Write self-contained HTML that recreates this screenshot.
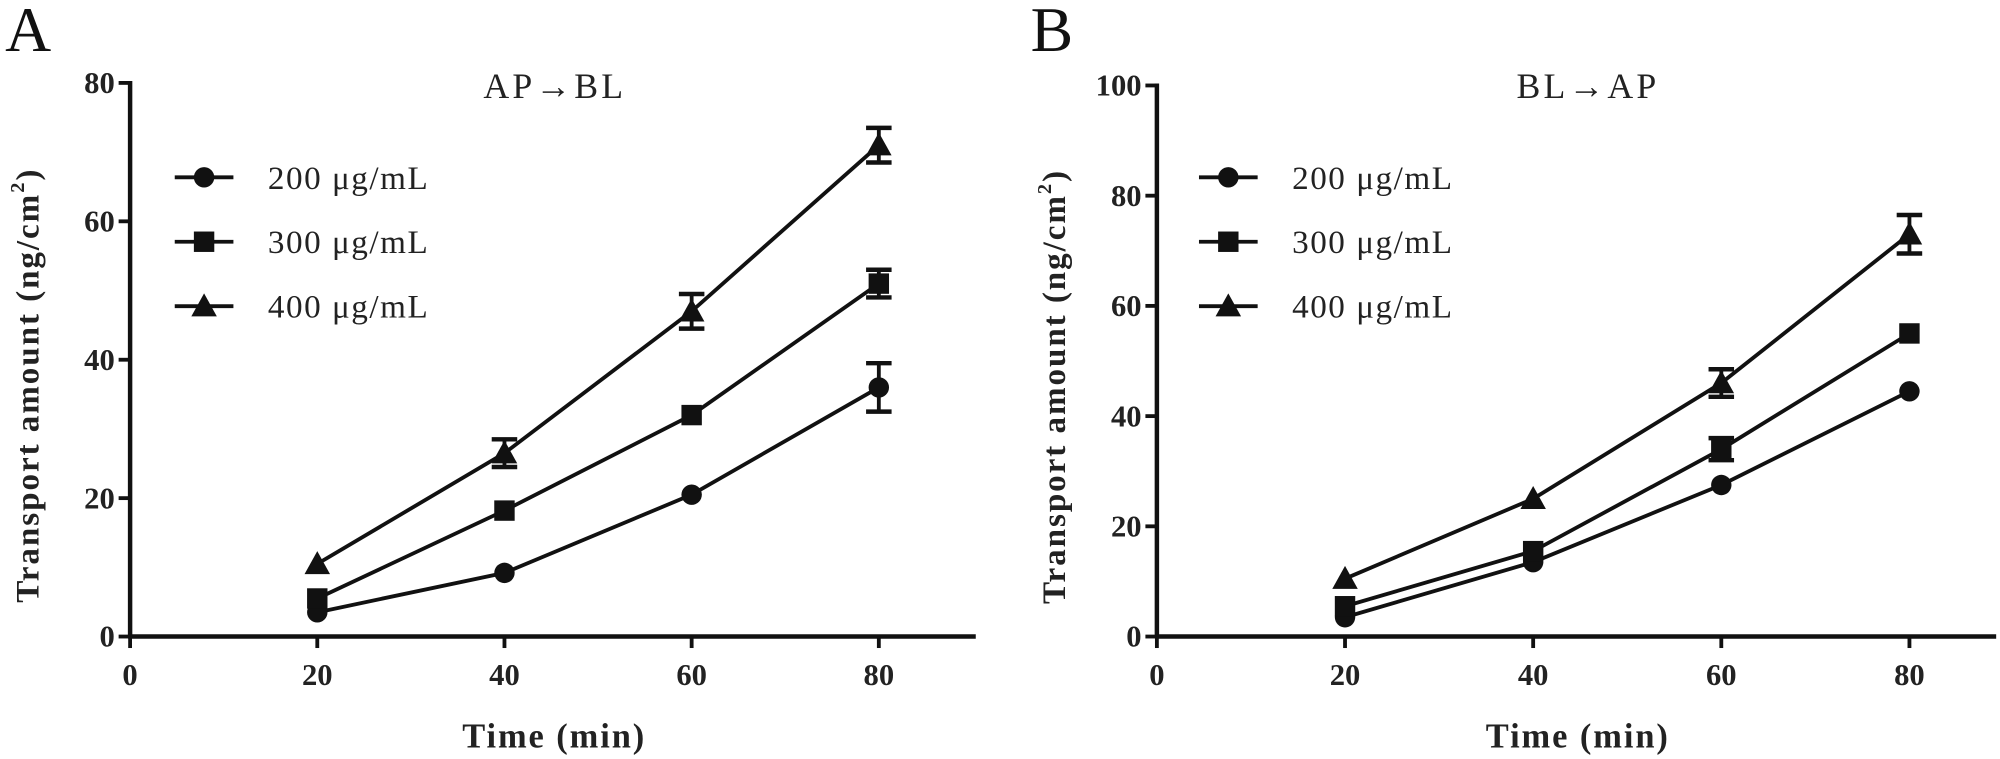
<!DOCTYPE html>
<html><head><meta charset="utf-8"><style>
html,body{margin:0;padding:0;background:#fff;}
svg{display:block;font-family:"Liberation Serif",serif;}
</style></head><body>
<svg id="chart" width="2000" height="759" viewBox="0 0 1568 595" preserveAspectRatio="none" xmlns="http://www.w3.org/2000/svg"></svg>
<script>
const times = [20, 40, 60, 80];
const seriesNames = ["200 μg/mL", "300 μg/mL", "400 μg/mL"];
const markers = ["circle", "square", "triangle"];
const xTicks = [0, 20, 40, 60, 80];
const yTicksA = [0, 20, 40, 60, 80];
const yTicksB = [0, 20, 40, 60, 80, 100];
const a200 = [3.5, 9.2, 20.5, 36];
const a300 = [5.5, 18.2, 32, 51];
const a400 = [10.5, 26.5, 47, 71];
const a200err = [0, 0, 0, 3.5];
const a300err = [0, 0, 0, 2];
const a400err = [0, 2, 2.5, 2.5];
const b200 = [3.5, 13.5, 27.5, 44.5];
const b300 = [5.5, 15.5, 34, 55];
const b400 = [10.5, 25, 46, 73];
const b200err = [0, 0, 0, 0];
const b300err = [0, 0, 2, 0];
const b400err = [0, 0, 2.5, 3.5];

const NS = "http://www.w3.org/2000/svg";
const svg = document.getElementById("chart");
function mk(tag, attrs, parent) {
  const e = document.createElementNS(NS, tag);
  for (const k in attrs) e.setAttribute(k, attrs[k]);
  (parent || svg).appendChild(e);
  return e;
}
function drawMarker(g, type, cx, cy) {
  let m;
  if (type === "circle") m = mk("circle", {cx: cx, cy: cy, r: 8, fill: "#111"}, g);
  else if (type === "square") m = mk("rect", {x: cx - 8, y: cy - 8, width: 16, height: 16, fill: "#111"}, g);
  else m = mk("polygon", {points: `${cx},${cy - 10} ${cx - 10},${cy + 8} ${cx + 10},${cy + 8}`, fill: "#111"}, g);
  return m;
}
function panel(cfg) {
  const g = mk("g", {});
  
  
  const X = v => cfg.x0 + (v / 80) * (cfg.x80 - cfg.x0);
  const Y = v => cfg.y0 - (v / cfg.ymax) * (cfg.y0 - cfg.ytop);
  const ya = mk("line", {x1: cfg.x0, y1: cfg.y0 + 1.5, x2: cfg.x0, y2: cfg.ytop - 1.5, stroke: "#111", "stroke-width": 3.5}, g);
  
  
  const xa = mk("line", {x1: cfg.x0 - 1.5, y1: cfg.y0, x2: cfg.xend, y2: cfg.y0, stroke: "#111", "stroke-width": 3.5}, g);
  
  
  cfg.yTicks.forEach(v => {
    mk("line", {x1: cfg.x0 - 9, y1: Y(v), x2: cfg.x0, y2: Y(v), stroke: "#111", "stroke-width": 3}, g);
    const t = mk("text", {x: cfg.x0 - 12, y: Y(v) + 8, "text-anchor": "end", "font-size": 24, "font-weight": "bold", fill: "#222"}, g);
    t.textContent = v;
    
    
  });
  xTicks.forEach(v => {
    mk("line", {x1: X(v), y1: cfg.y0, x2: X(v), y2: cfg.y0 + 9, stroke: "#111", "stroke-width": 3}, g);
    const t = mk("text", {x: X(v), y: cfg.y0 + 38, "text-anchor": "middle", "font-size": 24, "font-weight": "bold", fill: "#222"}, g);
    t.textContent = v;
    
    
  });
  const xt = mk("text", {x: (cfg.x0 + cfg.xend) / 2 + 1, y: cfg.y0 + 87, "text-anchor": "middle", "font-size": 27, "font-weight": "bold", "letter-spacing": 1.5, fill: "#222"}, g);
  xt.textContent = "Time (min)";
  
  
  const yt = mk("text", {x: 0, y: 0, transform: `translate(${cfg.x0 - 72},${(cfg.y0 + cfg.ytop) / 2 + 20}) rotate(-90)`, "text-anchor": "middle", "font-size": 26, "font-weight": "bold", "letter-spacing": 1.5, fill: "#222"}, g);
  yt.innerHTML = 'Transport amount (ng/cm<tspan dy="-11" font-size="16">2</tspan><tspan dy="11">)</tspan>';
  
  
  const tt = mk("text", {x: cfg.titleX, y: 77, "text-anchor": "middle", "font-size": 28, "letter-spacing": 2.5, fill: "#222"}, g);
  tt.textContent = cfg.title;
  
  
  const pl = mk("text", {x: cfg.labelX, y: 40, "font-size": 50, fill: "#111"}, g);
  pl.textContent = cfg.label;
  
  
  cfg.series.forEach((vals, si) => {
    const sg = mk("g", {}, g);
    
    
    const pts = times.map((t, i) => X(t) + "," + Y(vals[i])).join(" ");
    mk("polyline", {points: pts, fill: "none", stroke: "#111", "stroke-width": 3}, sg);
    times.forEach((t, i) => {
      const e = cfg.errs[si][i];
      if (e > 0) {
        const cx = X(t);
        mk("line", {x1: cx, y1: Y(vals[i] - e), x2: cx, y2: Y(vals[i] + e), stroke: "#111", "stroke-width": 3}, sg);
        mk("line", {x1: cx - 10, y1: Y(vals[i] + e), x2: cx + 10, y2: Y(vals[i] + e), stroke: "#111", "stroke-width": 3.5}, sg);
        mk("line", {x1: cx - 10, y1: Y(vals[i] - e), x2: cx + 10, y2: Y(vals[i] - e), stroke: "#111", "stroke-width": 3.5}, sg);
      }
      const m = drawMarker(sg, markers[si], X(t), Y(vals[i]));
      
      
    });
  });
  seriesNames.forEach((n, si) => {
    const ly = 139 + si * 50.5;
    const lg = mk("g", {}, g);
    
    
    mk("line", {x1: cfg.legX, y1: ly, x2: cfg.legX + 46, y2: ly, stroke: "#111", "stroke-width": 3}, lg);
    drawMarker(lg, markers[si], cfg.legX + 23, ly);
    const t = mk("text", {x: cfg.legX + 73, y: ly + 9, "font-size": 26, "letter-spacing": 1.2, fill: "#222"}, lg);
    t.textContent = n;
  });
}
panel({name: "panel-a", label: "A", labelX: 4, title: "AP→BL", titleX: 435, x0: 102, x80: 689, xend: 765, y0: 499, ytop: 65, ymax: 80,
  yTicks: yTicksA, series: [a200, a300, a400], errs: [a200err, a300err, a400err], legX: 137});
panel({name: "panel-b", label: "B", labelX: 808, title: "BL→AP", titleX: 1245, x0: 907, x80: 1497, xend: 1565, y0: 499, ytop: 67, ymax: 100,
  yTicks: yTicksB, series: [b200, b300, b400], errs: [b200err, b300err, b400err], legX: 940});
</script>
</body></html>
